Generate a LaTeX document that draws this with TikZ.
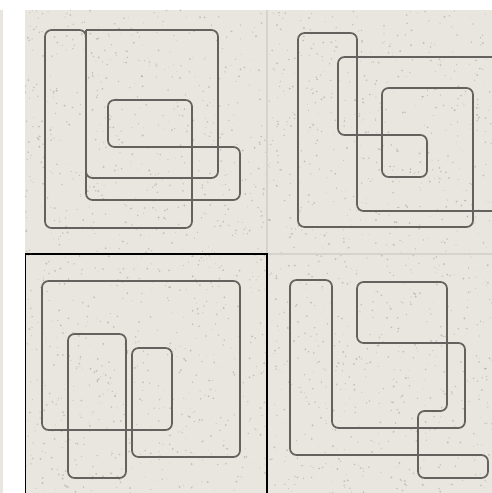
\documentclass[tikz,border=0pt]{standalone}
\usepackage{xcolor}
\usepackage{tikz}
\definecolor{tilebg}{RGB}{233,230,223}
\definecolor{inkgray}{RGB}{100,98,95}
\definecolor{seamgray}{RGB}{214,211,204}
\definecolor{speck}{RGB}{150,146,140}

\begin{document}
\begin{tikzpicture}[x=0.02cm, y=-0.02cm,
  fig/.style={draw=inkgray, line width=0.034cm, rounded corners=0.13cm, line join=round},
  seam/.style={draw=seamgray, line width=0.03cm},
  frame/.style={draw=black, line width=0.05cm}]
\useasboundingbox (0,0) rectangle (492,493);
\fill[white] (0,0) rectangle (492,493);
\fill[tilebg] (0,10) rectangle (3,493);
\fill[tilebg] (25,10) rectangle (492,493);
\begin{scope}
\clip (25,10) rectangle (492,493);
% speckles
\pgfmathsetseed{42}
\foreach \i in {1,...,2200}{
  \pgfmathsetmacro\sx{25+467*rnd}
  \pgfmathsetmacro\sy{10+483*rnd}
  \pgfmathsetmacro\sr{0.3+0.8*rnd}
  \fill[speck, opacity=0.45] (\sx,\sy) circle[radius=\sr];
}
\draw[seam] (267,10) -- (267,493);
\draw[seam] (25,254) -- (492,254);
% top left
\draw[fig] (86,30) -- (218,30) -- (218,178) -- (86,178) -- (86,30);
\draw[fig] (45,30) -- (86,30) -- (86,200) -- (240,200) -- (240,147) -- (108,147) -- (108,100)
  -- (192,100) -- (192,228) -- (45,228) -- cycle;
% top right
\draw[fig] (298,33) -- (357,33) -- (357,211) -- (520,211) -- (520,57) -- (338,57) -- (338,135)
  -- (427,135) -- (427,177) -- (382,177) -- (382,88) -- (473,88) -- (473,227) -- (298,227) -- cycle;
% bottom left
\draw[fig] (42,281) -- (240,281) -- (240,457) -- (132,457) -- (132,348) -- (172,348)
  -- (172,430) -- (42,430) -- cycle;
\draw[fig] (68,334) rectangle (126,478);
% bottom right
\draw[fig] (290,280) -- (332,280) -- (332,428) -- (465,428) -- (465,343) -- (357,343) -- (357,282)
  -- (447,282) -- (447,411) -- (418,411) -- (418,478) -- (488,478) -- (488,455) -- (290,455) -- cycle;
\draw[frame] (24.5,500) -- (24.5,254) -- (267,254) -- (267,500);
\end{scope}
\end{tikzpicture}
\end{document}
